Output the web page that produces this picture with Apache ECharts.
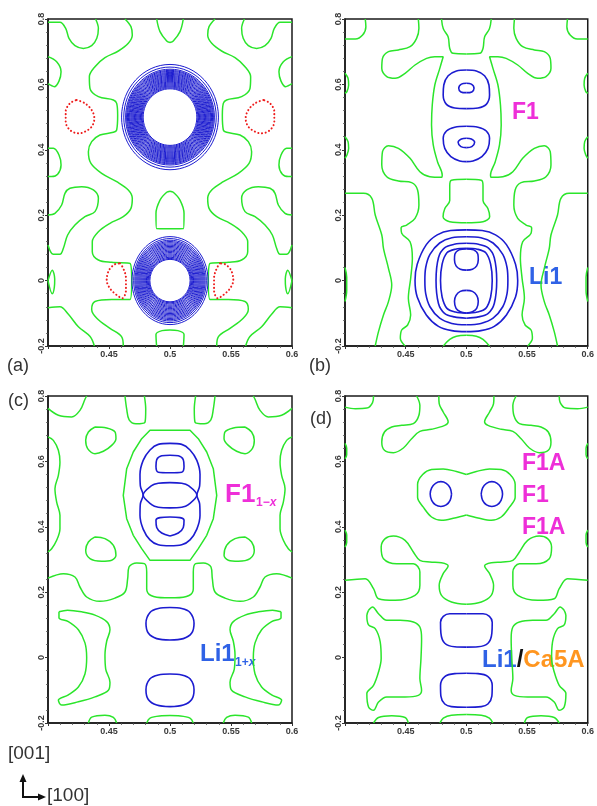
<!DOCTYPE html>
<html><head><meta charset="utf-8">
<script src="https://cdn.jsdelivr.net/npm/echarts@6/dist/echarts.min.js"></script>
<style>html,body{margin:0;padding:0;background:#fff}#c{width:597px;height:806px}</style>
</head><body><div id="c"></div>
<script>
// ---------- tick values / labels ----------
const xTicks = [0.4, 0.45, 0.5, 0.55, 0.6];
const xTickLabels = ['', '0.45', '0.5', '0.55', '0.6'];
const yTicks = [-0.2, 0, 0.2, 0.4, 0.6, 0.8];
const yTickLabels = ['-0.2', '0', '0.2', '0.4', '0.6', '0.8'];

// ---------- panel (a): contour lines, left half (x<=0.5), right half is the mirror ----------
const aGreen1 = [[0.4,0.79],[0.4098,0.79],[0.4145,0.7715],[0.4172,0.741],[0.4221,0.7185],[0.429,0.71],[0.4358,0.7185],[0.44,0.741],[0.4413,0.7715],[0.439,0.8]];
const aGreen2 = [[0.4,0.685],[0.4071,0.6695],[0.4107,0.639],[0.409,0.61],[0.4052,0.593],[0.4,0.602]];
const aGreen3 = [[0.4631,0.8],[0.468,0.7766],[0.4691,0.7511],[0.4658,0.7256],[0.4577,0.7021],[0.4467,0.6818],[0.4385,0.6542],[0.4339,0.6236],[0.4344,0.588],[0.4413,0.5625],[0.4536,0.5523],[0.4563,0.5421],[0.4571,0.5064],[0.4563,0.4605],[0.4536,0.4534],[0.4426,0.4453],[0.4358,0.4249],[0.4331,0.3943],[0.4352,0.3586],[0.444,0.328],[0.4563,0.3025],[0.4658,0.2771],[0.4691,0.2516],[0.468,0.221],[0.4617,0.1955],[0.4508,0.1751],[0.4413,0.1496],[0.4363,0.1191],[0.4363,0.0885],[0.4413,0.063],[0.4522,0.0559],[0.4672,0.0528],[0.4686,0.0],[0.4672,-0.058],[0.4522,-0.058],[0.4385,-0.064],[0.4358,-0.088],[0.44,-0.115],[0.4508,-0.146],[0.4604,-0.172],[0.4617,-0.2]];
const aGreen4 = [[0.4,0.4045],[0.4044,0.4045],[0.409,0.384],[0.4107,0.3535],[0.4079,0.325],[0.403,0.318],[0.4,0.318]];
const aGreen5 = [[0.4,0.2006],[0.4057,0.2057],[0.4112,0.2312],[0.4139,0.2669],[0.418,0.2822],[0.4276,0.2873],[0.4372,0.2771],[0.4413,0.2516],[0.4385,0.2108],[0.4303,0.1955],[0.4221,0.17],[0.4161,0.1394],[0.4126,0.0987],[0.4098,0.0803],[0.4044,0.0803],[0.4,0.1089]];
const aGreen6 = [[0.4,0.0],[0.4035,0.032],[0.4055,0.005],[0.4052,-0.02],[0.4035,-0.04],[0.4,0.0]];
const aGreen7 = [[0.4,-0.083],[0.4098,-0.08],[0.4167,-0.103],[0.4249,-0.141],[0.4345,-0.171],[0.438,-0.2]];
const aGreen8 = [[0.4891,0.8],[0.4918,0.7613],[0.4973,0.7327],[0.5,0.728]];
const aGreen9 = [[0.5,0.1585],[0.489,0.159],[0.4885,0.205],[0.4918,0.246],[0.4973,0.27],[0.5,0.2735]];
const aGreen10 = [[0.489,-0.2],[0.4885,-0.165],[0.4935,-0.153],[0.5,-0.151]];
const aRed1 = [[0.4235,0.5523],[0.4303,0.5421],[0.4358,0.5217],[0.438,0.4962],[0.4358,0.4707],[0.4303,0.4555],[0.4249,0.4503],[0.418,0.4605],[0.4145,0.486],[0.4145,0.5166],[0.418,0.5421],[0.4235,0.5523]];
const aRed2 = [[0.459,0.0528],[0.4617,0.0375],[0.4639,0.007],[0.4639,-0.029],[0.4609,-0.054],[0.4563,-0.044],[0.4508,-0.024],[0.4481,0.002],[0.45,0.032],[0.4549,0.05],[0.459,0.0528]];
// concentric blue contours: centre and [half-width, half-height]
const aRingCentreUpper = [0.5, 0.5];
const aRingsUpper = [[0.0397,0.161],[0.0379,0.153],[0.0364,0.1465],[0.0356,0.143],[0.0349,0.14],[0.0341,0.1367],[0.0334,0.1337],[0.0327,0.1307],[0.0319,0.1275],[0.0312,0.1245],[0.0305,0.1215],[0.0298,0.1185],[0.0291,0.1155],[0.0284,0.1125],[0.0277,0.1095],[0.027,0.1068],[0.0263,0.104],[0.0256,0.101],[0.0249,0.098],[0.0242,0.095],[0.0235,0.0922],[0.0228,0.0893],[0.022,0.0865]];
const aRingCentreLower = [0.5, 0.0];
const aRingsLower = [[0.0312,0.1345],[0.0298,0.1285],[0.0288,0.1235],[0.028,0.1195],[0.0272,0.1158],[0.0264,0.112],[0.0256,0.1082],[0.0248,0.1045],[0.024,0.1008],[0.0232,0.097],[0.0224,0.0932],[0.0216,0.0895],[0.0208,0.0858],[0.02,0.082],[0.0193,0.0785],[0.0186,0.075],[0.0179,0.0715],[0.0172,0.068],[0.0165,0.065]];

// ---------- panel (b) ----------
const bGreen1 = [[0.4,0.739],[0.4085,0.739],[0.4145,0.751],[0.4172,0.7766],[0.4167,0.8]];
const bGreen2 = [[0.4,0.634],[0.4025,0.6186],[0.403,0.598],[0.4016,0.578],[0.4,0.573]];
const bGreen3 = [[0.4,0.44],[0.4025,0.425],[0.403,0.4045],[0.4016,0.384],[0.4,0.374]];
const bGreen4 = [[0.4,0.04],[0.4014,0.01],[0.4014,-0.03],[0.4,-0.064]];
const bGreen5 = [[0.4604,0.8],[0.4609,0.7715],[0.459,0.7409],[0.4536,0.7154],[0.444,0.7052],[0.4358,0.7001],[0.4309,0.6797],[0.4303,0.6491],[0.4344,0.6236],[0.4413,0.6186],[0.4495,0.6338],[0.4577,0.6593],[0.4672,0.6797],[0.474,0.6848],[0.4809,0.6848],[0.4781,0.6491],[0.474,0.5982],[0.4719,0.537],[0.4713,0.4758],[0.4727,0.4147],[0.4762,0.3637],[0.4801,0.3229],[0.4795,0.3158],[0.4699,0.3178],[0.4617,0.3331],[0.4536,0.3739],[0.444,0.4045],[0.4358,0.4126],[0.4309,0.3943],[0.4303,0.3535],[0.4344,0.3178],[0.444,0.3046],[0.4549,0.2995],[0.4598,0.2771],[0.4609,0.2312],[0.4577,0.1904],[0.4508,0.17],[0.4462,0.1619],[0.4467,0.1445],[0.4536,0.119],[0.4555,0.0681],[0.4541,0.0069],[0.4522,-0.0542],[0.4541,-0.1052],[0.4516,-0.1358],[0.4467,-0.1511],[0.4456,-0.1766],[0.4495,-0.2]];
const bGreen6 = [[0.4,0.267],[0.4153,0.267],[0.4221,0.2516],[0.4249,0.2006],[0.4303,0.1394],[0.4317,0.0987],[0.4358,0.0375],[0.4385,-0.0135],[0.4358,-0.0644],[0.4317,-0.105],[0.4276,-0.156],[0.4249,-0.2]];
const bGreen7 = [[0.4795,0.8],[0.481,0.77],[0.485,0.745],[0.4863,0.71],[0.489,0.695],[0.5,0.693]];
const bGreen8 = [[0.5,0.31],[0.4877,0.307],[0.4863,0.29],[0.4863,0.245],[0.4822,0.22],[0.4808,0.195],[0.4863,0.18],[0.5,0.177]];
const bGreen9 = [[0.481,-0.2],[0.4863,-0.18],[0.4918,-0.17],[0.5,-0.167]];
const bBlue1 = [[0.5,0.644],[0.4918,0.641],[0.485,0.6267],[0.4814,0.5982],[0.4809,0.5676],[0.4836,0.539],[0.4904,0.528],[0.5,0.526]];
const bBlue2 = [[0.5,0.6033],[0.4959,0.601],[0.4937,0.588],[0.4955,0.577],[0.5,0.5747]];
const bBlue3 = [[0.5,0.472],[0.4904,0.469],[0.4836,0.4575],[0.4809,0.4351],[0.4822,0.4045],[0.4872,0.379],[0.4945,0.3658],[0.5,0.3637]];
const bBlue4 = [[0.5,0.4351],[0.4959,0.433],[0.4932,0.4228],[0.4955,0.4096],[0.5,0.4065]];
const bBlue5 = [[0.5,0.155],[0.487,0.153],[0.476,0.14],[0.467,0.11],[0.4595,0.05],[0.4577,0.0],[0.4595,-0.05],[0.467,-0.105],[0.477,-0.14],[0.488,-0.153],[0.5,-0.156]];
const bBlue6 = [[0.5,0.134],[0.488,0.131],[0.478,0.115],[0.47,0.08],[0.4665,0.04],[0.4658,0],[0.4665,-0.04],[0.47,-0.08],[0.478,-0.115],[0.488,-0.131],[0.5,-0.135]];
const bBlue7 = [[0.5,0.114],[0.49,0.111],[0.482,0.1],[0.477,0.07],[0.475,0.0],[0.477,-0.07],[0.482,-0.1],[0.49,-0.111],[0.5,-0.115]];
const bBlue8 = [[0.5,0.099],[0.491,0.096],[0.484,0.085],[0.48,0.05],[0.4787,0],[0.48,-0.05],[0.484,-0.085],[0.491,-0.096],[0.5,-0.1]];
const bBlue9 = [[0.5,0.097],[0.494,0.094],[0.4905,0.08],[0.4902,0.064],[0.4915,0.045],[0.495,0.035],[0.5,0.032]];
const bBlue10 = [[0.5,-0.03],[0.495,-0.033],[0.4915,-0.045],[0.4902,-0.063],[0.4915,-0.085],[0.495,-0.095],[0.5,-0.099]];

// ---------- panel (c) ----------
const cGreen1 = [[0.4,0.762],[0.4085,0.741],[0.4194,0.736],[0.4262,0.756],[0.4303,0.79],[0.4317,0.8]];
const cGreen2 = [[0.4631,0.8],[0.4645,0.76],[0.4665,0.727],[0.472,0.715],[0.4795,0.72],[0.4801,0.76],[0.479,0.8]];
const cGreen3 = [[0.4385,0.7052],[0.4481,0.7021],[0.4549,0.69],[0.4557,0.6695],[0.4522,0.649],[0.4454,0.631],[0.4385,0.6236],[0.4325,0.639],[0.4309,0.6644],[0.4331,0.69],[0.4385,0.7052]];
const cGreen4 = [[0.4,0.675],[0.4044,0.6644],[0.4085,0.634],[0.4098,0.598],[0.4085,0.5574],[0.4057,0.5166],[0.4071,0.4758],[0.4098,0.435],[0.4098,0.3943],[0.4071,0.3586],[0.403,0.333],[0.4,0.323]];
const cGreen5 = [[0.4385,0.369],[0.4467,0.3637],[0.4536,0.3433],[0.4557,0.3127],[0.4522,0.2975],[0.444,0.2944],[0.4344,0.3025],[0.4309,0.328],[0.4331,0.3535],[0.4385,0.369]];
const cGreen6 = [[0.5,0.695],[0.4836,0.695],[0.4768,0.6695],[0.4699,0.6287],[0.4645,0.5778],[0.4617,0.4962],[0.4645,0.4249],[0.4699,0.3739],[0.4768,0.3331],[0.4836,0.2975],[0.5,0.2975]];
const cGreen7 = [[0.4,0.243],[0.4126,0.2567],[0.4221,0.2465],[0.4262,0.2159],[0.4317,0.1853],[0.4426,0.172],[0.4549,0.182],[0.4631,0.2006],[0.4653,0.2414],[0.4664,0.2771],[0.4727,0.2893],[0.479,0.2873],[0.4809,0.2618],[0.4809,0.2108],[0.4844,0.19],[0.4959,0.183],[0.5,0.183]];
const cGreen8 = [[0.409,0.14],[0.416,0.145],[0.4276,0.14],[0.4385,0.13],[0.4481,0.11],[0.4508,0.085],[0.4481,0.05],[0.4467,0.008],[0.4473,-0.035],[0.4508,-0.075],[0.4495,-0.1],[0.4385,-0.12],[0.4249,-0.135],[0.4112,-0.145],[0.4085,-0.13],[0.4167,-0.114],[0.4249,-0.09],[0.4303,-0.05],[0.4317,0.0],[0.4303,0.045],[0.4249,0.085],[0.4167,0.11],[0.409,0.122],[0.409,0.14]];
const cGreen9 = [[0.4331,-0.2],[0.4358,-0.182],[0.4467,-0.176],[0.4536,-0.183],[0.4563,-0.2]];
const cGreen10 = [[0.4809,-0.2],[0.4836,-0.185],[0.4932,-0.178],[0.5,-0.177]];
const cBlue1 = [[0.5,0.655],[0.4904,0.652],[0.4836,0.635],[0.478,0.603],[0.4754,0.56],[0.4757,0.525],[0.478,0.497],[0.4757,0.47],[0.4754,0.435],[0.478,0.393],[0.4836,0.36],[0.4904,0.345],[0.5,0.342]];
const cBlue2 = [[0.5,0.535],[0.4904,0.533],[0.4849,0.526],[0.478,0.497],[0.4849,0.468],[0.4904,0.46],[0.5,0.458]];
const cBlue3 = [[0.5,0.619],[0.4932,0.617],[0.4891,0.605],[0.4885,0.585],[0.4904,0.567],[0.5,0.5655]];
const cBlue4 = [[0.5,0.43],[0.4918,0.428],[0.4885,0.42],[0.4891,0.398],[0.4932,0.381],[0.5,0.372]];
const cBlue5 = [[0.5,0.153],[0.4904,0.15],[0.4836,0.138],[0.4803,0.105],[0.4822,0.075],[0.4891,0.058],[0.5,0.054]];
const cBlue6 = [[0.5,-0.05],[0.4904,-0.053],[0.4836,-0.065],[0.4803,-0.098],[0.4822,-0.128],[0.4891,-0.145],[0.5,-0.15]];

// ---------- panel (d) ----------
const dGreen1 = [[0.4,0.766],[0.4085,0.761],[0.418,0.763],[0.4227,0.78],[0.4235,0.8]];
const dGreen2 = [[0.459,0.8],[0.4617,0.7715],[0.4609,0.741],[0.4563,0.7154],[0.4467,0.7103],[0.4385,0.7052],[0.4325,0.69],[0.4303,0.6593],[0.4325,0.634],[0.4399,0.6267],[0.4481,0.641],[0.4549,0.6695],[0.4617,0.692],[0.4713,0.6981],[0.4822,0.7103],[0.485,0.7205],[0.4809,0.7511],[0.4776,0.7766],[0.4773,0.8]];
const dGreen3 = [[0.4,0.655],[0.4014,0.64],[0.4014,0.62],[0.4,0.608]];
const dGreen4 = [[0.4,0.39],[0.4014,0.375],[0.4014,0.352],[0.4,0.338]];
const dGreen5 = [[0.5,0.56],[0.4918,0.569],[0.4809,0.577],[0.4713,0.575],[0.464,0.56],[0.4598,0.53],[0.4598,0.49],[0.4645,0.46],[0.4713,0.43],[0.4795,0.42],[0.4904,0.427],[0.5,0.436]];
const dGreen6 = [[0.4,0.2363],[0.4167,0.2414],[0.4235,0.2108],[0.4276,0.1802],[0.4413,0.1751],[0.4577,0.1904],[0.4617,0.221],[0.4617,0.2618],[0.4563,0.2873],[0.4426,0.2873],[0.4317,0.3025],[0.4298,0.3382],[0.4331,0.3637],[0.4399,0.3719],[0.4495,0.3586],[0.4563,0.3229],[0.4617,0.2975],[0.4699,0.2924],[0.4795,0.2903],[0.485,0.2801],[0.4809,0.2567],[0.4776,0.221],[0.4795,0.1904],[0.4877,0.17],[0.5,0.1629]];
const dGreen7 = [[0.4194,0.1445],[0.4227,0.1547],[0.4276,0.1343],[0.4344,0.114],[0.4454,0.114],[0.4563,0.1089],[0.4617,0.0936],[0.4631,0.058],[0.4626,-0.003],[0.4617,-0.064],[0.4631,-0.1],[0.4604,-0.1154],[0.4495,-0.1205],[0.4344,-0.1205],[0.4276,-0.136],[0.4235,-0.161],[0.4194,-0.151],[0.418,-0.11],[0.4235,-0.085],[0.4276,-0.044],[0.4298,-0.003],[0.429,0.048],[0.4249,0.0885],[0.4194,0.1],[0.418,0.129],[0.4194,0.1445]];
const dGreen8 = [[0.4235,-0.2],[0.4276,-0.183],[0.4385,-0.178],[0.4495,-0.183],[0.4522,-0.2]];
const dGreen9 = [[0.4782,-0.2],[0.481,-0.185],[0.4877,-0.176],[0.5,-0.174]];
const dBlue1 = [[0.4878,0.5],[0.4866,0.519],[0.4834,0.533],[0.479,0.538],[0.4746,0.533],[0.4714,0.519],[0.4702,0.5],[0.4714,0.481],[0.4746,0.467],[0.479,0.462],[0.4834,0.467],[0.4866,0.481],[0.4878,0.5]];
const dBlue2 = [[0.5,0.134],[0.4863,0.134],[0.481,0.126],[0.4787,0.108],[0.479,0.075],[0.4822,0.044],[0.4904,0.033],[0.5,0.032]];
const dBlue3 = [[0.5,-0.048],[0.4904,-0.049],[0.4822,-0.058],[0.4787,-0.085],[0.479,-0.118],[0.4822,-0.142],[0.4877,-0.15],[0.5,-0.152]];

// ---------- styles ----------
const GREEN = '#2be52b', BLUE = '#1c1cd0', RED = '#ee1c1c';
const MAG = '#ee2fd8', LBLUE = '#2f62e6', ORANGE = '#ff9620';
const FONT = '"Liberation Sans", Arial, sans-serif';

const grids = [
  {left: 48, top: 19, width: 244, height: 327},
  {left: 345, top: 19, width: 244, height: 327},
  {left: 48, top: 396, width: 244, height: 327},
  {left: 345, top: 396, width: 245, height: 327}
];

function xFmt(v) { const i = xTicks.findIndex(t => Math.abs(t - v) < 1e-6); return i >= 0 ? xTickLabels[i] : ''; }
function yFmt(v) { const i = yTicks.findIndex(t => Math.abs(t - v) < 1e-6); return i >= 0 ? yTickLabels[i] : ''; }

const xAxes = [], yAxes = [];
grids.forEach((g, i) => {
  xAxes.push({
    type: 'value', gridIndex: i, min: 0.4, max: 0.6, interval: 0.05,
    axisLine: {show: true, onZero: false, lineStyle: {color: '#1a1a1a', width: 1.5}},
    axisTick: {show: true, length: 3, lineStyle: {color: '#333', width: 1}},
    minorTick: {show: true, splitNumber: 5, length: 2, lineStyle: {color: '#555', width: 0.8}},
    splitLine: {show: false},
    axisLabel: {formatter: xFmt, fontSize: 9, fontWeight: 'bold', color: '#3a3a3a', margin: 4, fontFamily: FONT, showMinLabel: false}
  });
  xAxes.push({type: 'value', gridIndex: i, min: 0.4, max: 0.6, inverse: true, show: false});
  yAxes.push({
    type: 'value', gridIndex: i, min: -0.2, max: 0.8, interval: 0.2,
    axisLine: {show: true, onZero: false, lineStyle: {color: '#1a1a1a', width: 1.5}},
    axisTick: {show: true, length: 3, lineStyle: {color: '#333', width: 1}},
    minorTick: {show: true, splitNumber: 5, length: 2, lineStyle: {color: '#555', width: 0.8}},
    splitLine: {show: false},
    axisLabel: {formatter: yFmt, rotate: 90, fontSize: 9, fontWeight: 'bold', color: '#3a3a3a', margin: 2, fontFamily: FONT}
  });
});

const series = [];
function addLines(list, g, color, width, opts) {
  opts = opts || {};
  list.forEach(d => {
    [0, 1].forEach(m => {
      series.push({
        type: 'line', xAxisIndex: 2 * g + m, yAxisIndex: g, data: d,
        symbol: 'none', showSymbol: false, silent: true, animation: false,
        smooth: opts.smooth === undefined ? 0.35 : opts.smooth,
        z: opts.z || 2,
        lineStyle: {color: color, width: width, type: opts.dash || 'solid', cap: opts.cap || 'butt'}
      });
    });
  });
}
function addRings(centre, list, g) {
  series.push({
    type: 'custom', xAxisIndex: 2 * g, yAxisIndex: g, silent: true, animation: false, z: 4,
    data: list.map(r => [centre[0], centre[1], r[0], r[1]]),
    renderItem: function (p, api) {
      const c = api.coord([api.value(0), api.value(1)]);
      const s = api.size([api.value(2), api.value(3)]);
      return {type: 'ellipse', shape: {cx: c[0], cy: c[1], rx: s[0], ry: s[1]},
              style: {fill: 'none', stroke: BLUE, lineWidth: 1}};
    }
  });
}

// panel a
addLines([aGreen1, aGreen2, aGreen3, aGreen4, aGreen5, aGreen6, aGreen7, aGreen8, aGreen9, aGreen10], 0, GREEN, 1.5);
addLines([aRed1, aRed2], 0, RED, 2, {dash: [0.1, 3.6], cap: 'round', z: 3});
addRings(aRingCentreUpper, aRingsUpper, 0);
addRings(aRingCentreLower, aRingsLower, 0);
// panel b
addLines([bGreen1, bGreen2, bGreen3, bGreen4, bGreen5, bGreen6, bGreen7, bGreen8, bGreen9], 1, GREEN, 1.5);
addLines([bBlue1, bBlue2, bBlue3, bBlue4, bBlue5, bBlue6, bBlue7, bBlue8, bBlue9, bBlue10], 1, BLUE, 1.6, {z: 4});
// panel c
addLines([cGreen1, cGreen2, cGreen3, cGreen4, cGreen5, cGreen7, cGreen8, cGreen9, cGreen10], 2, GREEN, 1.5);
addLines([cGreen6], 2, GREEN, 1.5, {smooth: 0});
addLines([cBlue1, cBlue2, cBlue3, cBlue4, cBlue5, cBlue6], 2, BLUE, 1.6, {z: 4});
// panel d
addLines([dGreen1, dGreen2, dGreen3, dGreen4, dGreen5, dGreen6, dGreen7, dGreen8, dGreen9], 3, GREEN, 1.5);
addLines([dBlue1, dBlue2, dBlue3], 3, BLUE, 1.6, {z: 4});

function txt(left, top, text, size, color, weight, extra) {
  return Object.assign({type: 'text', left: left, top: top, silent: true,
    style: {text: text, fill: color, font: (weight || 'normal') + ' ' + size + 'px ' + FONT}}, extra || {});
}
const graphics = [
  txt(7, 357, '(a)', 18, '#333'),
  txt(309, 357, '(b)', 18, '#333'),
  txt(8, 392, '(c)', 18, '#333'),
  txt(310, 410, '(d)', 18, '#333'),
  txt(512, 101, 'F1', 23, MAG, 'bold'),
  txt(529, 266, 'Li1', 23, LBLUE, 'bold'),
  txt(225, 482, 'F1', 26, MAG, 'bold'),
  {type: 'text', left: 256, top: 497, silent: true, style: {text: '{n|1\u2212}{i|x}', rich: {
    n: {fill: MAG, font: 'bold 12px ' + FONT}, i: {fill: MAG, font: 'italic bold 12px ' + FONT}}}},
  txt(200, 642, 'Li1', 24, LBLUE, 'bold'),
  {type: 'text', left: 235, top: 657, silent: true, style: {text: '{n|1+}{i|x}', rich: {
    n: {fill: LBLUE, font: 'bold 12px ' + FONT}, i: {fill: LBLUE, font: 'italic bold 12px ' + FONT}}}},
  txt(522, 452, 'F1A', 23, MAG, 'bold'),
  txt(522, 484, 'F1', 23, MAG, 'bold'),
  txt(522, 516, 'F1A', 23, MAG, 'bold'),
  {type: 'text', left: 482, top: 648, silent: true, style: {text: '{a|Li1}{b|/}{c|Ca5A}', rich: {
    a: {fill: LBLUE, font: 'bold 24px ' + FONT}, b: {fill: '#111', font: 'bold 24px ' + FONT}, c: {fill: ORANGE, font: 'bold 24px ' + FONT}}}},
  txt(8, 744, '[001]', 19, '#333'),
  txt(47, 786, '[100]', 19, '#333'),
  {type: 'line', silent: true, shape: {x1: 23, y1: 797, x2: 23, y2: 780}, style: {stroke: '#111', lineWidth: 2}},
  {type: 'line', silent: true, shape: {x1: 22, y1: 797, x2: 40, y2: 797}, style: {stroke: '#111', lineWidth: 2}},
  {type: 'polygon', silent: true, shape: {points: [[23, 774], [19.5, 782], [26.5, 782]]}, style: {fill: '#111'}},
  {type: 'polygon', silent: true, shape: {points: [[46, 797], [38, 793.5], [38, 800.5]]}, style: {fill: '#111'}}
];

const chart = echarts.init(document.getElementById('c'), null, {renderer: 'canvas'});
chart.setOption({
  animation: false,
  backgroundColor: '#fff',
  grid: grids.map(g => Object.assign({show: true, borderColor: '#1a1a1a', borderWidth: 1.5, backgroundColor: 'transparent'}, g)),
  xAxis: xAxes,
  yAxis: yAxes,
  series: series,
  graphic: graphics
});
</script>
</body></html>
